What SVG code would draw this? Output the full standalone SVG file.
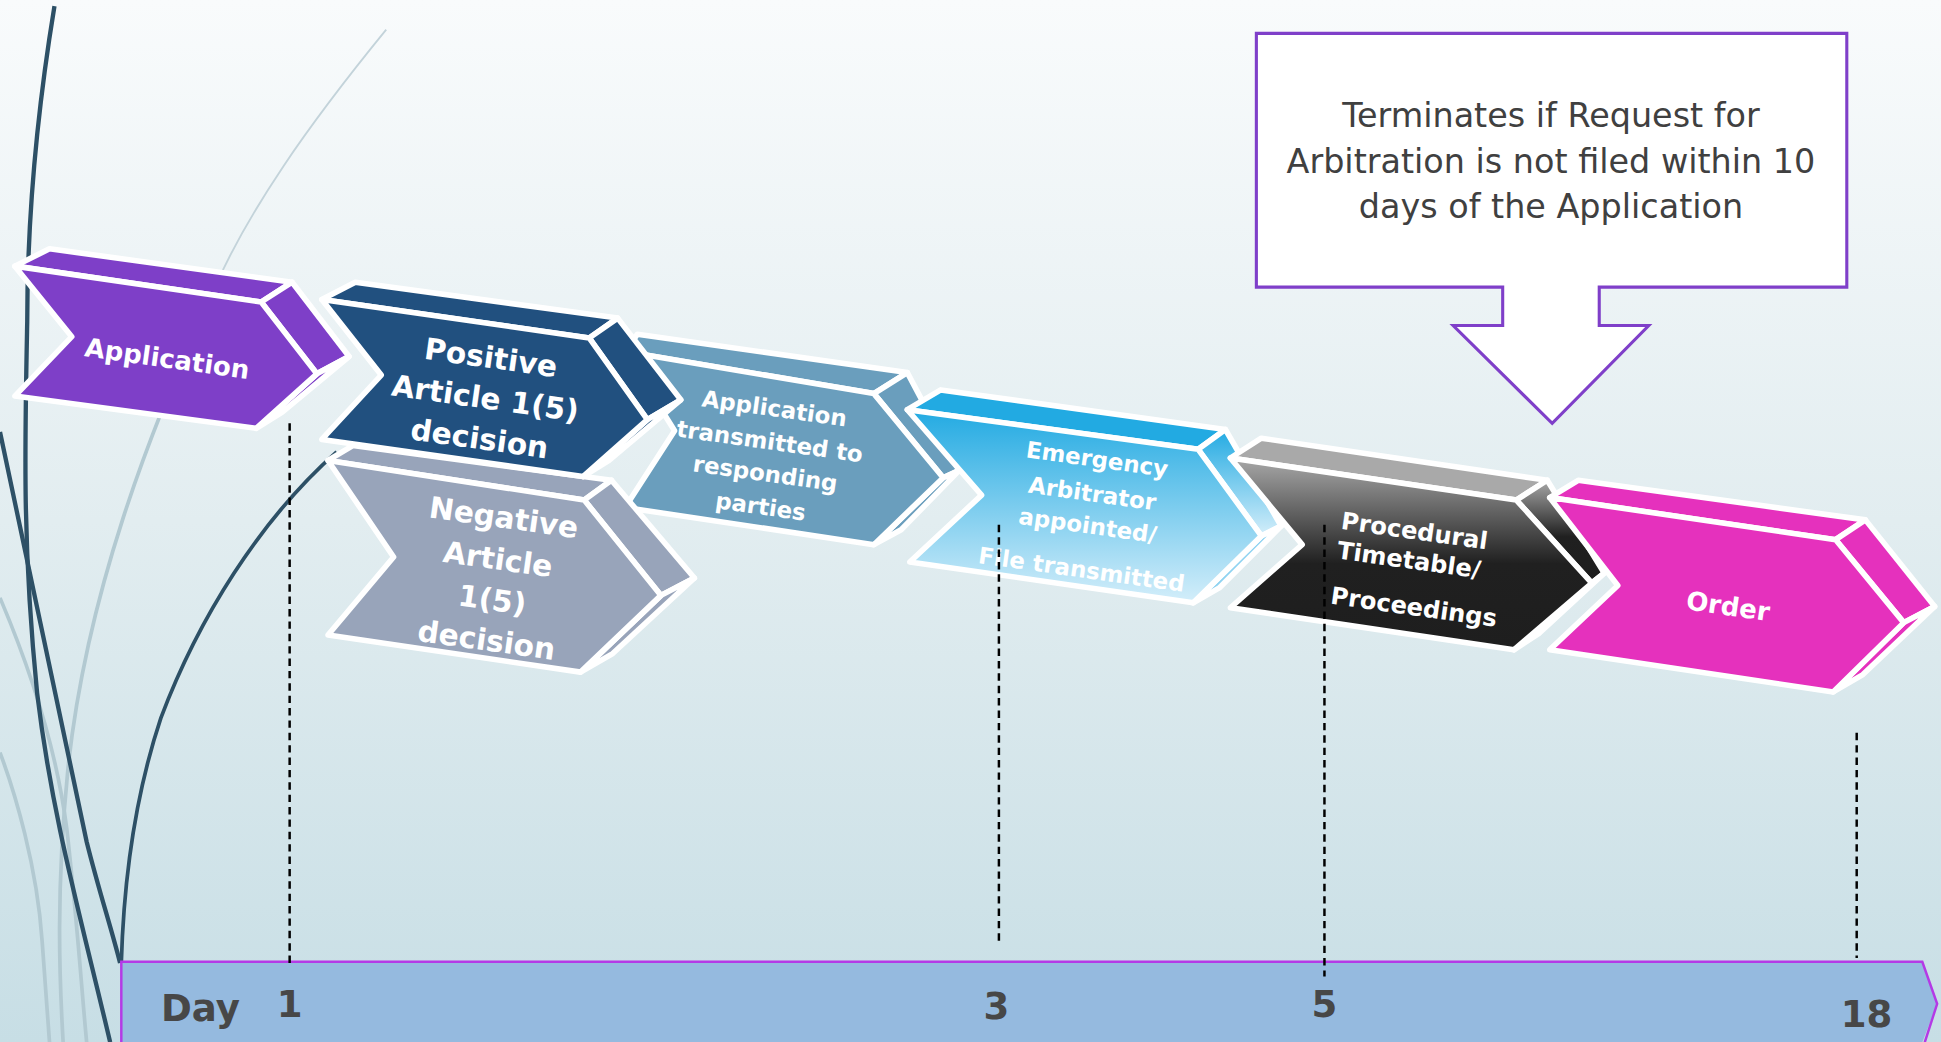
<svg xmlns="http://www.w3.org/2000/svg" width="1941" height="1042" viewBox="0 0 1941 1042">
<defs>
<linearGradient id="bg" x1="0" y1="0" x2="0" y2="1">
<stop offset="0" stop-color="#f9fbfc"/><stop offset="0.5" stop-color="#e2edf0"/><stop offset="1" stop-color="#c7dee5"/>
</linearGradient>
<linearGradient id="emg" x1="0" y1="0" x2="0" y2="1">
<stop offset="0" stop-color="#22aae2"/><stop offset="1" stop-color="#d4eefa"/>
</linearGradient>
<linearGradient id="prc" x1="0" y1="0" x2="0" y2="1">
<stop offset="0" stop-color="#a8a8a8"/><stop offset="0.55" stop-color="#202020"/><stop offset="1" stop-color="#1e1e1e"/>
</linearGradient>
<style>
.e{stroke:#fff;stroke-width:4.5;stroke-linejoin:round}
.l{font-family:"DejaVu Sans","Liberation Sans",sans-serif;font-weight:bold;fill:#fff;text-anchor:middle}
.dk{fill:none;stroke:#2d5066;stroke-width:3.5}
.lt{fill:none;stroke:#b2c9d1;stroke-width:3}
.gd{stroke:#000;stroke-width:2;stroke-dasharray:6 4;fill:none}
.d{font-family:"DejaVu Sans","Liberation Sans",sans-serif;font-weight:bold;fill:#474747;font-size:30px}
.c{font-family:"DejaVu Sans","Liberation Sans",sans-serif;fill:#404040;font-size:27px;text-anchor:middle}
</style>
</defs>
<rect x="0" y="0" width="1941" height="1042" fill="url(#bg)"/>
<g transform="scale(1.2378)">
<g id="decor">
<path class="lt" style="stroke-width:1.5;stroke:#c3d3da" d="M312,24 C250,100 200,170 170,240"/>
<path class="lt" d="M170,240 C120,350 70,480 55,620 C45,720 48,790 51,842"/>
<path class="lt" d="M0,483 C20,530 45,600 54,670 C62,740 66,800 70,842"/>
<path class="lt" d="M0,608 C12,640 30,700 34,760 C37,800 40,842 40,842"/>
<path class="dk" d="M44,5 C30,90 22,170 22,260 C20,360 18,440 30,560 C42,660 65,740 89,842"/>
<path class="dk" d="M0,349 C20,440 45,560 70,680 C80,720 90,750 97,778"/>
<path class="dk" style="stroke-width:3" d="M272,365 C210,420 160,500 130,580 C110,640 100,710 98,778"/>
</g>
<g id="timeline">
<polygon points="98,777 1553,777 1565,811 1553,842 98,842" fill="#95badf"/>
<polyline points="98,842 98,777 1553,777 1565,811 1555,842" fill="none" stroke="#b43ae6" stroke-width="2"/>
<text class="d" x="130" y="825">Day</text>
<text class="d" x="234" y="822" text-anchor="middle">1</text>
<text class="d" x="805" y="823" text-anchor="middle">3</text>
<text class="d" x="1070" y="822" text-anchor="middle">5</text>
<text class="d" x="1508" y="830" text-anchor="middle">18</text>
</g>
<g id="node-application">
<polygon class="e" fill="#7e3fc8" points="12,215 40,201 236,228 211,244"/>
<polygon class="e" fill="#7e3fc8" points="211,244 236,228 282,288 256,302"/>
<polygon class="e" fill="#7e3fc8" points="256,302 282,288 228,333 207,346"/>
<polygon class="e" fill="#7e3fc8" points="12,215 211,244 256,302 207,346 12,320 58,272"/>
<g transform="translate(135,290) rotate(8)"><text class="l" font-size="21" y="7">Application</text></g>
</g>
<g id="node-transmitted">
<polygon class="e" fill="#6a9ebd" points="505,284 515,270 733,301 706,318"/>
<polygon class="e" fill="#6a9ebd" points="706,318 733,301 775,380 762,386"/>
<polygon class="e" fill="#6a9ebd" points="762,386 775,380 728,428 706,440"/>
<polygon class="e" fill="#6a9ebd" points="505,284 706,318 762,386 706,440 505,410 545,348"/>
<g transform="translate(620,370) rotate(8)" font-size="18.5">
<text class="l" y="-34">Application</text>
<text class="l" y="-7">transmitted to</text>
<text class="l" y="19">responding</text>
<text class="l" y="46">parties</text>
</g>
</g>
<g id="node-negative">
<polygon class="e" fill="#98a4ba" points="265,372 285,360 494,388 472,404"/>
<polygon class="e" fill="#98a4ba" points="472,404 494,388 561,467 534,481"/>
<polygon class="e" fill="#98a4ba" points="534,481 561,467 495,528 469,543"/>
<polygon class="e" fill="#98a4ba" points="265,372 472,404 534,481 469,543 265,513 318,450"/>
<g transform="translate(400,468) rotate(8)" font-size="24">
<text class="l" y="-42">Negative</text>
<text class="l" y="-8">Article</text>
<text class="l" y="25">1(5)</text>
<text class="l" y="58">decision</text>
</g>
</g>
<g id="node-positive">
<polygon class="e" fill="#21507f" points="260,242 287,228 499,257 476,273"/>
<polygon class="e" fill="#21507f" points="476,273 499,257 550,323 523,339"/>
<polygon class="e" fill="#21507f" points="523,339 550,323 492,372 471,385"/>
<polygon class="e" fill="#21507f" points="260,242 476,273 523,339 471,385 260,355 308,303"/>
<g transform="translate(392,322) rotate(8)" font-size="24">
<text class="l" y="-25">Positive</text>
<text class="l" y="8">Article 1(5)</text>
<text class="l" y="41">decision</text>
</g>
</g>
<g id="node-emergency">
<polygon class="e" fill="#22aae2" points="733,331 760,315 990,347 968,363"/>
<polygon class="e" fill="url(#emg)" points="968,363 990,347 1035,425 1019,433"/>
<polygon class="e" fill="#8fd3f1" points="1019,433 1035,425 985,475 964,487"/>
<polygon class="e" fill="url(#emg)" points="733,331 968,363 1019,433 964,487 735,454 793,400"/>
<g transform="translate(880,416) rotate(8)" font-size="18.5">
<text class="l" y="-39">Emergency</text>
<text class="l" y="-11">Arbitrator</text>
<text class="l" y="15">appointed/</text>
<text class="l" y="51">File transmitted</text>
</g>
</g>
<g id="node-procedural">
<polygon class="e" fill="#a9a9a9" points="994,370 1019,354 1250,388 1225,404"/>
<polygon class="e" fill="url(#prc)" points="1225,404 1250,388 1296,463 1286,471"/>
<polygon class="e" fill="#222" points="1286,471 1296,463 1243,512 1223,525"/>
<polygon class="e" fill="url(#prc)" points="994,370 1225,404 1286,471 1223,525 994,491 1052,440"/>
<g transform="translate(1080,447) rotate(8)" font-size="19.5">
<text class="l" style="text-anchor:start" y="-20">Procedural</text>
<text class="l" style="text-anchor:start" y="4">Timetable/</text>
<text class="l" style="text-anchor:start" y="41">Proceedings</text>
</g>
</g>
<g id="node-order">
<polygon class="e" fill="#e531bd" points="1252,402 1275,388 1507,420 1483,436"/>
<polygon class="e" fill="#e531bd" points="1483,436 1507,420 1563,490 1538,503"/>
<polygon class="e" fill="#e531bd" points="1538,503 1563,490 1505,545 1481,559"/>
<polygon class="e" fill="#e531bd" points="1252,402 1483,436 1538,503 1481,559 1252,525 1307,473"/>
<g transform="translate(1396,490) rotate(8)"><text class="l" font-size="21" y="7">Order</text></g>
</g>
<g id="guides">
<line class="gd" x1="234" y1="342" x2="234" y2="781"/>
<line class="gd" x1="807" y1="424" x2="807" y2="763"/>
<line class="gd" x1="1070" y1="424" x2="1070" y2="789"/>
<line class="gd" x1="1500" y1="592" x2="1500" y2="774"/>
</g>
<g id="node-callout">
<polygon fill="#fff" stroke="#7f3fc9" stroke-width="2.5" points="1015,27 1492,27 1492,232 1292,232 1292,263 1332,263 1254,342 1174,263 1214,263 1214,232 1015,232"/>
<text class="c" x="1253" y="103">Terminates if Request for</text>
<text class="c" x="1253" y="140">Arbitration is not filed within 10</text>
<text class="c" x="1253" y="176">days of the Application</text>
</g>
</g>
</svg>
